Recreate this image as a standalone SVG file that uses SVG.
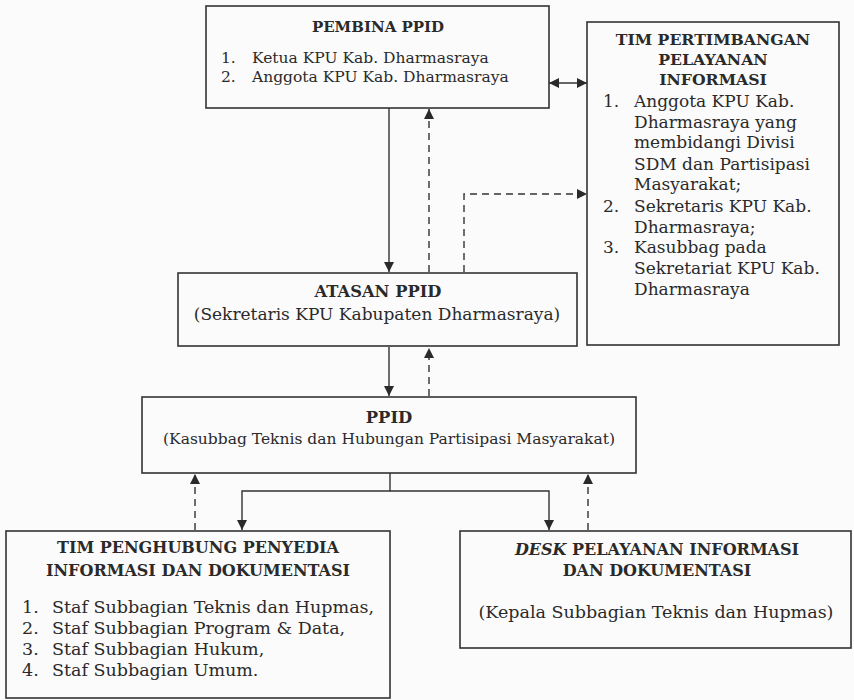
<svg xmlns="http://www.w3.org/2000/svg" width="854" height="700" viewBox="0 0 854 700">
<defs>
<style>
.box{fill:none;stroke:#333;stroke-width:1.6}
.t{font-family:"DejaVu Serif","Liberation Serif",serif;font-size:15.5px;fill:#2a2a2a}
.b{font-family:"DejaVu Serif","Liberation Serif",serif;font-size:16px;font-weight:bold;fill:#2a2a2a}
.c{text-anchor:middle}
.ln{fill:none;stroke:#333;stroke-width:1.4}
.d{stroke-dasharray:7,5}
</style>
<marker id="ah" viewBox="0 0 10 10" refX="10" refY="5" markerWidth="10" markerHeight="10" markerUnits="userSpaceOnUse" orient="auto-start-reverse">
<path d="M0,0 L10,5 L0,10 Z" fill="#2a2a2a"/>
</marker>
</defs>
<rect width="854" height="700" fill="#fbfbfb"/>
<g id="connectors">
<line class="ln" x1="549" y1="83" x2="587" y2="83" marker-start="url(#ah)" marker-end="url(#ah)"/>
<line class="ln" x1="389" y1="108" x2="389" y2="272" marker-end="url(#ah)"/>
<line class="ln d" x1="429" y1="272" x2="429" y2="109" marker-end="url(#ah)"/>
<polyline class="ln d" points="464,272 464,194 587,194" marker-end="url(#ah)"/>
<line class="ln" x1="389" y1="347" x2="389" y2="396" marker-end="url(#ah)"/>
<line class="ln d" x1="429" y1="396" x2="429" y2="348" marker-end="url(#ah)"/>
<polyline class="ln" points="390,473 390,491 242,491 242,530" marker-end="url(#ah)"/>
<polyline class="ln" points="390,491 549,491 549,530" marker-end="url(#ah)"/>
<line class="ln d" x1="195" y1="530" x2="195" y2="474" marker-end="url(#ah)"/>
<line class="ln d" x1="588" y1="530" x2="588" y2="474" marker-end="url(#ah)"/>
</g>
<g id="pembina">
<rect class="box" x="206" y="6" width="343" height="102"/>
<text class="b c" x="378" y="32" style="font-size:15px">PEMBINA PPID</text>
<text class="t" x="221" y="63">1.</text>
<text class="t" x="252" y="63">Ketua KPU Kab. Dharmasraya</text>
<text class="t" x="221" y="82">2.</text>
<text class="t" x="252" y="82">Anggota KPU Kab. Dharmasraya</text>
</g>
<g id="tim-pertimbangan" style="font-size:17px">
<rect class="box" x="587" y="22" width="252" height="323"/>
<text class="b c" x="713" y="45" style="font-size:15.7px">TIM PERTIMBANGAN</text>
<text class="b c" x="713" y="65" style="font-size:15.7px">PELAYANAN</text>
<text class="b c" x="713" y="85" style="font-size:15.7px">INFORMASI</text>
<text class="t" x="603" y="107" style="font-size:17px">1.</text>
<text class="t" x="634" y="107" style="font-size:17px">Anggota KPU Kab.</text>
<text class="t" x="634" y="128" style="font-size:17px">Dharmasraya yang</text>
<text class="t" x="634" y="148" style="font-size:17px">membidangi Divisi</text>
<text class="t" x="634" y="170" style="font-size:17px">SDM dan Partisipasi</text>
<text class="t" x="634" y="190" style="font-size:17px">Masyarakat;</text>
<text class="t" x="603" y="212" style="font-size:17px">2.</text>
<text class="t" x="634" y="212" style="font-size:17px">Sekretaris KPU Kab.</text>
<text class="t" x="634" y="233" style="font-size:17px">Dharmasraya;</text>
<text class="t" x="603" y="253" style="font-size:17px">3.</text>
<text class="t" x="634" y="253" style="font-size:17px">Kasubbag pada</text>
<text class="t" x="634" y="274" style="font-size:17px">Sekretariat KPU Kab.</text>
<text class="t" x="634" y="295" style="font-size:17px">Dharmasraya</text>
</g>
<g id="atasan">
<rect class="box" x="178" y="273" width="399" height="73"/>
<text class="b c" x="378" y="297" style="font-size:16.3px">ATASAN PPID</text>
<text class="t c" x="377" y="320" style="font-size:17px">(Sekretaris KPU Kabupaten Dharmasraya)</text>
</g>
<g id="ppid">
<rect class="box" x="142" y="397" width="494" height="76"/>
<text class="b c" x="389" y="423" style="font-size:16.4px">PPID</text>
<text class="t c" x="389" y="444">(Kasubbag Teknis dan Hubungan Partisipasi Masyarakat)</text>
</g>
<g id="tim-penghubung">
<rect class="box" x="6" y="531" width="384" height="167"/>
<text class="b c" x="198" y="553">TIM PENGHUBUNG PENYEDIA</text>
<text class="b c" x="198" y="576">INFORMASI DAN DOKUMENTASI</text>
<text class="t" x="22" y="613" style="font-size:17.5px">1.</text>
<text class="t" x="52" y="613" style="font-size:17.5px">Staf Subbagian Teknis dan Hupmas,</text>
<text class="t" x="22" y="634" style="font-size:17.5px">2.</text>
<text class="t" x="52" y="634" style="font-size:17.5px">Staf Subbagian Program &amp; Data,</text>
<text class="t" x="22" y="655" style="font-size:17.5px">3.</text>
<text class="t" x="52" y="655" style="font-size:17.5px">Staf Subbagian Hukum,</text>
<text class="t" x="22" y="676" style="font-size:17.5px">4.</text>
<text class="t" x="52" y="676" style="font-size:17.5px">Staf Subbagian Umum.</text>
</g>
<g id="desk">
<rect class="box" x="460" y="531" width="391" height="117"/>
<text class="b c" x="657" y="555"><tspan font-style="italic">DESK</tspan> PELAYANAN INFORMASI</text>
<text class="b c" x="657" y="576">DAN DOKUMENTASI</text>
<text class="t c" x="656" y="618" style="font-size:17.5px">(Kepala Subbagian Teknis dan Hupmas)</text>
</g>
</svg>
